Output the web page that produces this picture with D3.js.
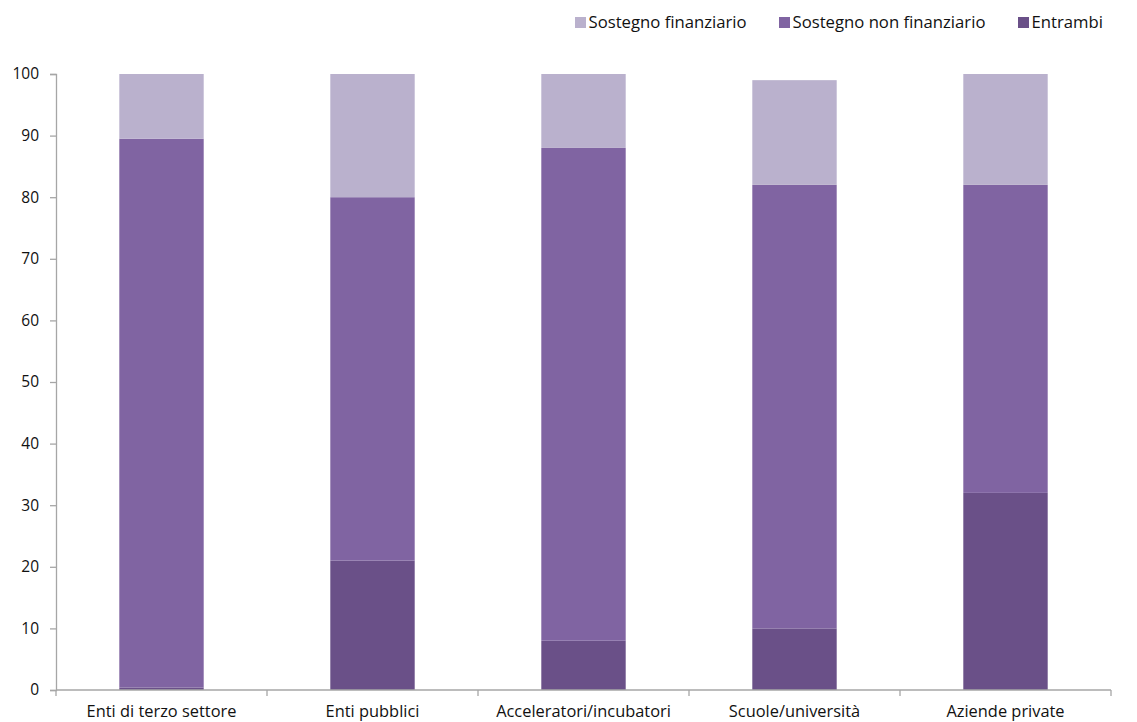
<!DOCTYPE html>
<html>
<head>
<meta charset="utf-8">
<script src="https://cdn.jsdelivr.net/npm/d3@7"></script>
<style>
  html, body { margin: 0; padding: 0; background: #fff; }
  svg text { font-family: "Open Sans", "Noto Sans", sans-serif; fill: #111; }
</style>
</head>
<body>
<svg id="chart" width="1137" height="722"></svg>
<script>
// Categories and stacked series (percentages)
const categories = ["Enti di terzo settore", "Enti pubblici", "Acceleratori/incubatori", "Scuole/università", "Aziende private"];
const entrambi = [0.4, 21, 8, 10, 32];
const nonFinanziario = [89.1, 59, 80, 72, 50];
const finanziario = [10.5, 20, 12, 17, 18];
const yTicks = [0, 10, 20, 30, 40, 50, 60, 70, 80, 90, 100];

const seriesNames = ["Entrambi", "Sostegno non finanziario", "Sostegno finanziario"];
const seriesValues = [entrambi, nonFinanziario, finanziario];
const colors = { "Entrambi": "#6a5088", "Sostegno non finanziario": "#8064a2", "Sostegno finanziario": "#bab1cd" };
const legendOrder = ["Sostegno finanziario", "Sostegno non finanziario", "Entrambi"];

const svg = d3.select("#chart");
const margin = { left: 56, right: 26, top: 74, bottom: 32 };
const W = 1137, H = 722;

const x = d3.scaleBand().domain(categories).range([margin.left, W - margin.right]).paddingInner(0.6).paddingOuter(0.3);
const xBound = d3.scaleBand().domain(categories).range([margin.left, W - margin.right]);
const y = d3.scaleLinear().domain([0, 100]).range([H - margin.bottom, margin.top]);

const rows = categories.map((c, i) => {
  const r = { cat: c };
  seriesNames.forEach((s, k) => r[s] = seriesValues[k][i]);
  return r;
});
const stacked = d3.stack().keys(seriesNames)(rows);

// Bars
svg.append("g").selectAll("g").data(stacked).join("g")
  .attr("fill", d => colors[d.key])
  .selectAll("rect").data(d => d).join("rect")
  .attr("x", d => x(d.data.cat))
  .attr("width", x.bandwidth())
  .attr("y", d => y(d[1]))
  .attr("height", d => y(d[0]) - y(d[1]));

const axisColor = "#a6a6a6";

// Y axis
const yAxis = svg.append("g").attr("transform", `translate(${margin.left},0)`)
  .call(d3.axisLeft(y).tickValues(yTicks).tickSize(6).tickPadding(11));
yAxis.select(".domain").attr("stroke", axisColor).attr("stroke-width", 1.3);
yAxis.selectAll(".tick line").attr("stroke", axisColor).attr("stroke-width", 1.3);
yAxis.selectAll(".tick text").attr("font-size", 15.5).style("font-family", "'Open Sans', sans-serif").attr("fill", "#111");

// X axis: line with ticks at category boundaries
const xg = svg.append("g").attr("transform", `translate(0,${y(0)})`);
xg.append("line").attr("x1", margin.left).attr("x2", W - margin.right)
  .attr("stroke", axisColor).attr("stroke-width", 1.3);
const bounds = categories.map(c => xBound(c)).concat([W - margin.right]);
xg.selectAll("line.tk").data(bounds).join("line").attr("class", "tk")
  .attr("x1", d => d).attr("x2", d => d).attr("y1", 0).attr("y2", 6)
  .attr("stroke", axisColor).attr("stroke-width", 1.3);
xg.selectAll("text").data(categories).join("text")
  .attr("x", d => xBound(d) + xBound.bandwidth() / 2)
  .attr("y", 26.5)
  .attr("text-anchor", "middle")
  .attr("font-size", 16.4)
  .text(d => d);

// Legend
const legendX = [575, 779, 1018];
const lg = svg.append("g");
legendOrder.forEach((name, i) => {
  lg.append("rect").attr("x", legendX[i]).attr("y", 17).attr("width", 11).attr("height", 11).attr("fill", colors[name]);
  lg.append("text").attr("x", legendX[i] + 13.5).attr("y", 27.5).attr("font-size", 16.7).text(name);
});
</script>
</body>
</html>
